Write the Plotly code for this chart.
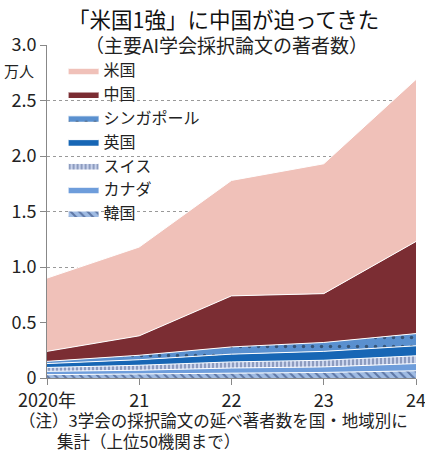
import plotly.graph_objects as go

# 主要AI学会採択論文の著者数（万人）
years = [2020, 2021, 2022, 2023, 2024]
year_labels = ['2020年', '21', '22', '23', '24']

korea = [0.03, 0.035, 0.045, 0.05, 0.065]
canada = [0.03, 0.035, 0.045, 0.05, 0.065]
swiss = [0.035, 0.045, 0.055, 0.06, 0.07]
uk = [0.035, 0.05, 0.07, 0.08, 0.09]
singapore = [0.02, 0.04, 0.065, 0.08, 0.11]
china = [0.09, 0.175, 0.46, 0.44, 0.83]
usa = [0.66, 0.80, 1.04, 1.17, 1.46]

y_ticks = [0, 0.5, 1.0, 1.5, 2.0, 2.5, 3.0]
y_tick_labels = ['0', '0.5', '1.0', '1.5', '2.0', '2.5', '3.0']

FONT = 'Noto Sans CJK JP'
NAVY = '#1f356a'

series = [
    ('韓国', korea, '#9fbbe3', dict(shape='\\', fgcolor=NAVY, bgcolor='#9fbbe3', size=6, solidity=0.35)),
    ('カナダ', canada, '#6e9ddb', None),
    ('スイス', swiss, '#c9d3ec', dict(shape='|', fgcolor=NAVY, bgcolor='#c9d3ec', size=4, solidity=0.35)),
    ('英国', uk, '#1766b5', None),
    ('シンガポール', singapore, '#5a90cf', dict(shape='.', fgcolor='#101820', bgcolor='#5a90cf', size=9, solidity=0.12)),
    ('中国', china, '#7b2d33', None),
    ('米国', usa, '#f0c1b9', None),
]

fig = go.Figure()
for name, vals, col, pat in series:
    kw = dict(fillpattern=pat) if pat else {}
    fig.add_trace(go.Scatter(
        x=years, y=vals, name=name,
        mode='lines', stackgroup='one',
        line=dict(color='white', width=1),
        fillcolor=col,
        hoverinfo='skip',
        **kw,
    ))

fig.update_layout(
    width=425, height=454,
    plot_bgcolor='white', paper_bgcolor='white',
    font=dict(family=FONT, size=15, color='#222'),
    margin=dict(l=47, r=9, t=45, b=76, autoexpand=False),
    showlegend=True,
    legend=dict(
        traceorder='reversed', x=0.045, y=0.975, xanchor='left', yanchor='top',
        bgcolor='rgba(255,255,255,0)', font=dict(size=16, family=FONT),
        itemwidth=30, tracegroupgap=0,
    ),
)
fig.update_xaxes(
    range=[2020, 2024], tickvals=years, ticktext=year_labels,
    showgrid=False, showline=True, linecolor='#888', linewidth=1,
    ticks='outside', ticklen=6, tickcolor='#888',
    tickfont=dict(size=18, family=FONT), automargin=False,
    ticklabeloverflow='allow',
)
fig.update_yaxes(
    range=[0, 3.0], tickvals=y_ticks, ticktext=y_tick_labels,
    showgrid=True, gridcolor='#999', griddash='dot', gridwidth=1,
    showline=True, linecolor='#888', linewidth=1,
    ticks='outside', ticklen=6, tickcolor='#888',
    tickfont=dict(size=18, family=FONT), zeroline=False, automargin=False,
    ticklabeloverflow='allow',
)

fig.add_annotation(text='「米国1強」に中国が迫ってきた', xref='paper', yref='paper',
                   x=0.477, y=1.0, yshift=27, yanchor='middle', showarrow=False,
                   font=dict(size=21.5, family=FONT, color='#111'))
fig.add_annotation(text='（主要AI学会採択論文の著者数）', xref='paper', yref='paper',
                   x=0.487, y=1.0, yshift=1, yanchor='middle', showarrow=False,
                   font=dict(size=19, family=FONT, color='#222'))
fig.add_annotation(text='万人', xref='paper', yref='paper',
                   x=-0.03, y=1.0, yshift=-25, xanchor='right', yanchor='middle',
                   showarrow=False, font=dict(size=15, family=FONT, color='#222'))
# 注記（2行）
fig.add_annotation(text='（注）3学会の採択論文の延べ著者数を国・地域別に',
                   xref='paper', yref='paper', x=0.984, y=0, yshift=-42,
                   xanchor='right', yanchor='middle', showarrow=False,
                   font=dict(size=16.5, family=FONT, color='#222'))
fig.add_annotation(text='集計（上位50機関まで）',
                   xref='paper', yref='paper', x=0.529, y=0, yshift=-63,
                   xanchor='right', yanchor='middle', showarrow=False,
                   font=dict(size=16.5, family=FONT, color='#222'))

fig.write_html('out.html', post_script="document.body.style.margin='0';",
               config={'displayModeBar': False})
